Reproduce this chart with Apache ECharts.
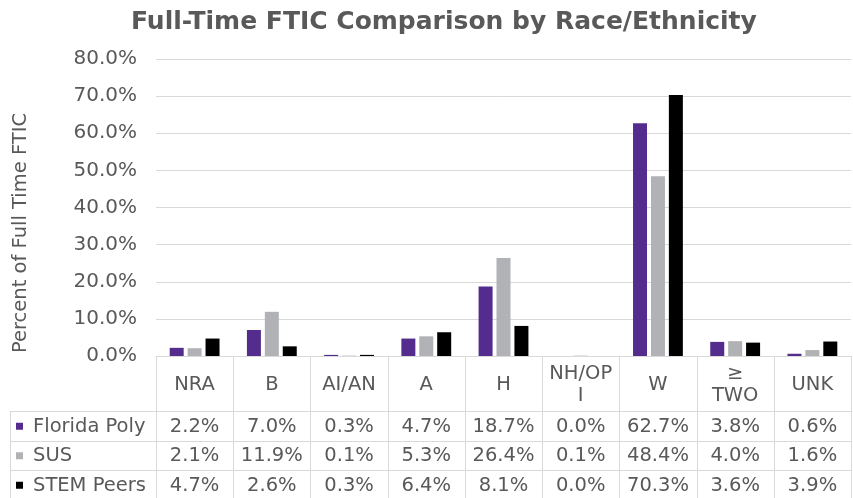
<!DOCTYPE html>
<html lang="en">
<head>
    <meta charset="UTF-8">
    <title>Full-Time FTIC Comparison by Race/Ethnicity</title>
    <script src="https://cdn.jsdelivr.net/npm/echarts@6/dist/echarts.min.js"></script>
    <style>
        html, body { margin: 0; padding: 0; background: #fff; }
        #main { width: 853px; height: 498px; }
    </style>
</head>
<body>
<div id="main"></div>
<script>
    var categories = ['NRA', 'B', 'AI/AN', 'A', 'H', 'NH/OP\nI', 'W', '≥\nTWO', 'UNK'];
    var seriesNames = ['Florida Poly', 'SUS', 'STEM Peers'];
    var floridaPoly = [2.2, 7.0, 0.3, 4.7, 18.7, 0.0, 62.7, 3.8, 0.6];
    var sus = [2.1, 11.9, 0.1, 5.3, 26.4, 0.1, 48.4, 4.0, 1.6];
    var stemPeers = [4.7, 2.6, 0.3, 6.4, 8.1, 0.0, 70.3, 3.6, 3.9];
    var yTicks = [0, 10, 20, 30, 40, 50, 60, 70, 80];

    var colors = ['#542C8E', '#B1B2B5', '#000000'];
    var allData = [floridaPoly, sus, stemPeers];
    var font = 'DejaVu Sans';
    var textColor = '#595959';
    var lineColor = '#D9D9D9';

    var gridLeft = 156, gridRight = 2, gridTop = 59, gridBottom = 142;
    var headerH = 55, rowH = 29.5, tableLeft = 10;

    var myChart = echarts.init(document.getElementById('main'));

    var series = seriesNames.map(function (name, i) {
        return {
            name: name,
            type: 'bar',
            data: allData[i],
            barWidth: 14,
            barGap: '28%',
            itemStyle: {color: colors[i]},
            animation: false
        };
    });

    var option = {
        animation: false,
        title: {
            text: 'Full-Time FTIC Comparison by Race/Ethnicity',
            left: 126,
            top: 5,
            textStyle: {fontFamily: font, fontSize: 25, fontWeight: 'bold', color: textColor}
        },
        grid: {left: gridLeft, right: gridRight, top: gridTop, bottom: gridBottom, containLabel: false},
        xAxis: {
            type: 'category',
            data: categories,
            axisLine: {lineStyle: {color: lineColor}},
            axisTick: {show: false},
            axisLabel: {show: false}
        },
        yAxis: {
            type: 'value',
            min: yTicks[0],
            max: yTicks[yTicks.length - 1],
            interval: 10,
            axisLine: {show: false},
            axisTick: {show: false},
            splitLine: {lineStyle: {color: lineColor, width: 1}},
            axisLabel: {
                margin: 19,
                fontFamily: font,
                fontSize: 20,
                color: textColor,
                formatter: function (v) { return v.toFixed(1) + '%'; }
            }
        },
        series: series
    };
    myChart.setOption(option);

    // data table under the plot, positioned from the category axis
    var W = myChart.getWidth();
    var H = myChart.getHeight();
    var axisY = H - gridBottom;
    var right = W - gridRight;
    var step = (right - gridLeft) / categories.length;
    var headerBottom = axisY + headerH;
    var g = [];

    function line(x1, y1, x2, y2) {
        g.push({type: 'line', silent: true,
            shape: {x1: x1, y1: y1, x2: x2, y2: y2},
            style: {stroke: lineColor, lineWidth: 1}});
    }
    function text(str, x, y, align) {
        g.push({type: 'text', silent: true, x: x, y: y,
            style: {text: str, fill: textColor, font: '19.5px "' + font + '"',
                align: align || 'center', verticalAlign: 'middle', lineHeight: 22}});
    }

    var tableBottom = headerBottom + rowH * seriesNames.length;
    for (var k = 0; k <= categories.length; k++) {
        var x = Math.round(gridLeft + k * step) + 0.5;
        line(x, axisY, x, tableBottom);
    }
    line(tableLeft + 0.5, headerBottom, tableLeft + 0.5, tableBottom);
    for (var r = 0; r <= seriesNames.length; r++) {
        var y = Math.round(headerBottom + r * rowH) + 0.5;
        line(tableLeft, y, right, y);
    }
    categories.forEach(function (c, j) {
        var cx = myChart.convertToPixel({xAxisIndex: 0}, j);
        text(c, cx, axisY + headerH / 2 + 1);
    });
    seriesNames.forEach(function (name, i) {
        var cy = headerBottom + rowH * (i + 0.5) + 1;
        g.push({type: 'rect', silent: true,
            shape: {x: 16, y: cy - 4, width: 7, height: 7},
            style: {fill: colors[i]}});
        text(name, 33, cy, 'left');
        allData[i].forEach(function (v, j) {
            var cx = myChart.convertToPixel({xAxisIndex: 0}, j);
            text(v.toFixed(1) + '%', cx, cy);
        });
    });
    g.push({type: 'text', silent: true, x: 21, y: 233, rotation: Math.PI / 2,
        style: {text: 'Percent of Full Time FTIC', fill: textColor, font: '19.5px "' + font + '"',
            align: 'center', verticalAlign: 'middle'}});

    myChart.setOption({graphic: g});
</script>
</body>
</html>
